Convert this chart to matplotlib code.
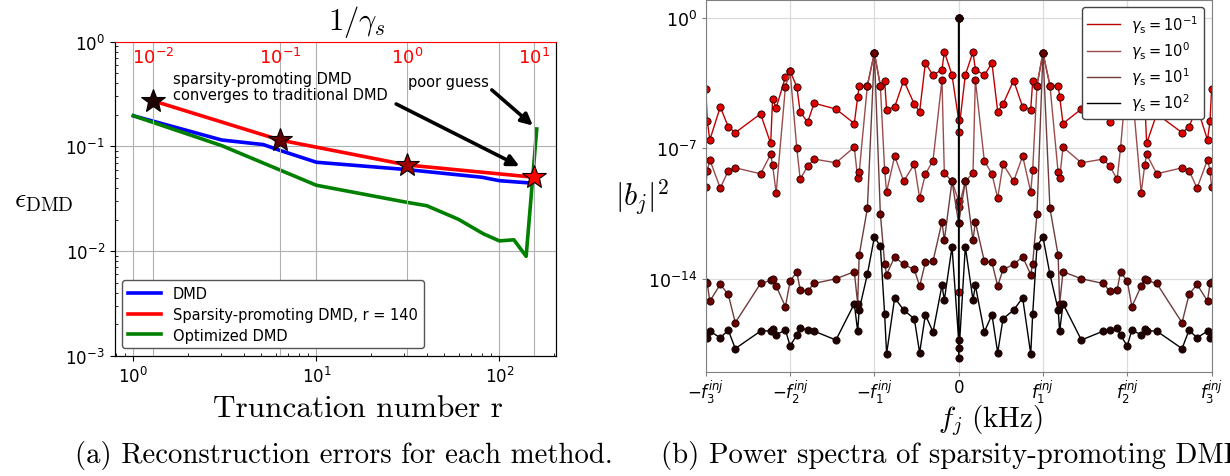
import numpy as np
import matplotlib.pyplot as plt
from matplotlib.ticker import FixedLocator, LogFormatterSciNotation, NullLocator, LogLocator

plt.rcParams['font.family'] = 'DejaVu Sans'
plt.rcParams['mathtext.fontset'] = 'dejavusans'

# ---- (a) reconstruction error vs truncation number ----
r_dmd = [1, 3.04, 5.13, 6.39, 10, 31.2, 80.1, 100, 147]
err_dmd = [0.196, 0.115, 0.104, 0.091, 0.0705, 0.060, 0.0507, 0.047, 0.0447]

r_opt = [1, 3.04, 10, 31.2, 40.1, 59.7, 81.8, 100, 120, 140, 160]
err_opt = [0.196, 0.1016, 0.0425, 0.0292, 0.0271, 0.0201, 0.0146, 0.0125, 0.0128, 0.0089, 0.1466]

inv_gamma = [0.01, 0.1, 1, 10]
err_sp = [0.273, 0.115, 0.0664, 0.0507]
star_colors = ['#1e0000', '#640000', '#a00000', '#ff0000']

# ---- (b) |b_j|^2 spectra, positive half (frequencies in units of f_1^inj) ----
freq_pos = [0.079, 0.170, 0.198, 0.304, 0.395, 0.463, 0.526, 0.652, 0.759, 0.855,
            0.878, 0.929, 1.000, 1.083, 1.180, 1.198, 1.238, 1.456, 1.715, 1.792,
            1.880, 1.920, 2.000, 2.055, 2.165, 2.207, 2.230, 2.350, 2.650, 2.733,
            2.828, 2.952, 2.982, 3.000]
# log10 |b_j|^2 for gamma_s = 1e-1, 1e0, 1e1, 1e2
lb_g01 = [-3.06, -1.82, -2.77, -3.08, -2.42, -5.03, -4.63, -3.36, -4.78, -4.92,
          -3.40, -3.63, -1.88, -3.63, -3.63, -4.24, -5.67, -4.89, -4.58, -5.60,
          -5.05, -3.70, -2.85, -3.17, -4.83, -4.33, -6.74, -5.15, -6.16, -5.85,
          -4.78, -6.55, -5.54, -3.84]
lb_g1 = [-8.77, -8.34, -3.33, -7.66, -8.39, -9.68, -7.85, -8.77, -7.42, -9.34,
         -8.19, -3.63, -1.88, -3.63, -8.30, -8.62, -6.94, -7.78, -7.58, -7.96,
         -8.66, -7.00, -2.85, -3.70, -9.39, -7.92, -7.33, -8.37, -8.05, -8.20,
         -9.14, -7.62, -8.20, -9.07]
lb_g10 = [-8.77, -11.95, -10.95, -13.06, -13.13, -14.40, -13.51, -13.24, -12.83, -13.78,
          -13.19, -10.52, -1.88, -10.23, -12.74, -15.35, -13.63, -14.01, -14.26, -14.67,
          -14.60, -13.65, -14.13, -15.51, -14.40, -14.04, -14.10, -14.26, -16.37, -14.85,
          -14.31, -15.21, -14.26, -14.20]
lb_g100 = [-12.29, -15.15, -14.36, -16.87, -15.94, -17.98, -16.16, -15.69, -15.03, -18.05,
           -15.92, -12.25, -11.77, -13.77, -15.67, -16.83, -15.35, -17.30, -16.82, -16.77,
           -16.64, -17.03, -17.62, -16.75, -17.03, -16.73, -16.80, -16.82, -17.76, -16.77,
           -17.18, -16.82, -17.21, -16.95]
# zero-frequency modes of each run
lb0_g01 = [-5.49, 0.0, -6.14]
lb0_g1 = [-9.84, -14.70, 0.0, -10.18]
lb0_g10 = [-11.02, 0.0, -11.02]
lb0_g100 = [-17.28, -17.71, 0.0, -18.25]

gamma_labels = [r'$\gamma_\mathrm{s} = 10^{-1}$', r'$\gamma_\mathrm{s} = 10^{0}$',
                r'$\gamma_\mathrm{s} = 10^{1}$', r'$\gamma_\mathrm{s} = 10^{2}$']
line_colors = ['#c00000', '#9a4c4c', '#6e3c3c', '#000000']
face_colors = ['#e00000', '#c00000', '#680000', '#1c0000']

fig = plt.figure(figsize=(12.3, 4.77), dpi=100)

# ------------------------ left panel ------------------------
ax = fig.add_axes([0.0932, 0.2522, 0.3592, 0.6583])
ax.set_xscale('log')
ax.set_yscale('log')
l_dmd, = ax.plot(r_dmd, err_dmd, color='blue', lw=2.6)
l_opt, = ax.plot(r_opt, err_opt, color='green', lw=2.6)
ax.set_xlim(0.79, 205)
ax.set_ylim(1e-3, 1)
ax.grid(True, which='major', color='#b0b0b0', lw=0.8)
ax.tick_params(labelsize=12)
ax.tick_params(which='minor', direction='in', length=2)
ax.yaxis.set_minor_locator(LogLocator(subs=np.arange(2, 10)))
ax.spines['top'].set_visible(False)

ax2 = ax.twiny()
ax2.set_xscale('log')
ax2.set_xlim(0.00501, 15.0)
l_sp, = ax2.plot(inv_gamma, err_sp, color='red', lw=2.6)
for x, y, c in zip(inv_gamma, err_sp, star_colors):
    ax2.plot(x, y, marker='*', ms=18, mfc=c, mec='k', mew=0.8, zorder=5)
ax2.xaxis.set_minor_locator(NullLocator())
ax2.grid(True, which='major', axis='x', color='#b0b0b0', lw=0.8)
ax2.tick_params(axis='x', colors='red', direction='in', length=0, pad=-18, labelsize=13)
ax2.spines['top'].set_color('red')

arrow_kw = dict(arrowstyle='-|>', color='black', lw=2.6, mutation_scale=17,
                shrinkA=0, shrinkB=0)
ax2.annotate('', xy=(128.6, 0.0646), xytext=(27.3, 0.254), xycoords=ax.transData,
             textcoords=ax.transData, arrowprops=arrow_kw)
ax2.annotate('', xy=(152.3, 0.158), xytext=(90.9, 0.346), xycoords=ax.transData,
             textcoords=ax.transData, arrowprops=arrow_kw)
ax2.text(1.64, 0.528, 'sparsity-promoting DMD\nconverges to traditional DMD',
         transform=ax.transData, fontsize=10.5, va='top', ha='left', linespacing=1.1)
ax2.text(31.8, 0.492, 'poor guess', transform=ax.transData, fontsize=10.5,
         va='top', ha='left')

ax2.legend([l_dmd, l_sp, l_opt],
           ['DMD', 'Sparsity-promoting DMD, r = 140', 'Optimized DMD'],
           loc='lower left', fontsize=10.5, handlelength=2.3, framealpha=1,
           edgecolor='#555555', labelspacing=0.4)

fig.text(357 / 1230, 1 - 22 / 477, r'$1/\gamma_s$', math_fontfamily='cm',
         fontsize=22, ha='center', va='center')
fig.text(44 / 1230, 1 - 200 / 477, r'$\epsilon_{\mathrm{DMD}}$', math_fontfamily='cm',
         fontsize=20, ha='center', va='center')
fig.text(358 / 1230, 1 - 409 / 477, 'Truncation number r', family='cmr10',
         fontsize=22.5, ha='center', va='center')
fig.text(75 / 1230, 1 - 455 / 477, '(a) Reconstruction errors for each method.',
         family='cmr10', fontsize=20.7, ha='left', va='center')

# ------------------------ right panel ------------------------
bx = fig.add_axes([0.5738, 0.2187, 0.4112, 0.7798])
bx.set_yscale('log')
series = [(lb_g01, lb0_g01), (lb_g1, lb0_g1), (lb_g10, lb0_g10), (lb_g100, lb0_g100)]
fpos = np.array(freq_pos)
for (lb, lb0), lab, lc, fc in zip(series, gamma_labels, line_colors, face_colors):
    lb = np.array(lb)
    f = np.concatenate([-fpos[::-1], np.zeros(len(lb0)), fpos])
    v = 10.0 ** np.concatenate([lb[::-1], lb0, lb])
    bx.plot(f, v, color=lc, lw=1.0, label=lab)
    bx.plot(f, v, ls='none', marker='o', ms=5.2, mfc=fc, mec='#1a0000', mew=0.6)

bx.set_xlim(-3, 3)
bx.set_ylim(10 ** -19.0, 10 ** 0.98)
bx.xaxis.set_major_locator(FixedLocator([-3, -2, -1, 0, 1, 2, 3]))
bx.set_xticklabels([r'$-f_3^{inj}$', r'$-f_2^{inj}$', r'$-f_1^{inj}$', '0',
                    r'$f_1^{inj}$', r'$f_2^{inj}$', r'$f_3^{inj}$'])
bx.yaxis.set_major_locator(FixedLocator([1e-14, 1e-7, 1e0]))
bx.yaxis.set_major_formatter(LogFormatterSciNotation())
bx.yaxis.set_minor_locator(NullLocator())
bx.grid(True, color='#dcdcdc', lw=0.9)
bx.tick_params(labelsize=12.5, length=3, color='#808080')
bx.tick_params(axis='x', pad=1.5, labelsize=12)
for s in bx.spines.values():
    s.set_color('#808080')
bx.legend(loc='upper right', fontsize=10.5, framealpha=1, edgecolor='#444444',
          labelspacing=0.3, handlelength=2.2, borderaxespad=0.5)

fig.text(642 / 1230, 1 - 197 / 477, r'$|b_j|^2$', math_fontfamily='cm',
         fontsize=22, ha='center', va='center')
fig.text(990 / 1230, 1 - 421 / 477, r'$f_j\ (\mathrm{kHz})$', math_fontfamily='cm',
         fontsize=21, ha='center', va='center')
fig.text(661 / 1230, 1 - 455 / 477, '(b) Power spectra of sparsity-promoting DMD.',
         family='cmr10', fontsize=20.7, ha='left', va='center')

fig.savefig('out.png', dpi=100)
